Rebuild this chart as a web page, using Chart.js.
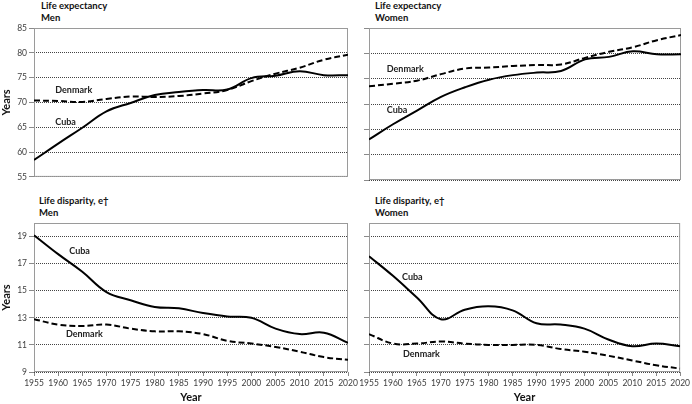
<!DOCTYPE html>
<html>
<head>
<meta charset="utf-8">
<script src="https://cdn.jsdelivr.net/npm/chart.js@4.4.0/dist/chart.umd.min.js"></script>
<style>
  body { margin: 0; background: #fff; }
  #wrap { position: relative; width: 692px; height: 404px; overflow: hidden; font-family: Lato, sans-serif; }
  canvas { position: absolute; }
  .ttl { position: absolute; font-weight: bold; font-size: 9.5px; line-height: 11.5px; color: #111; white-space: nowrap; }
</style>
</head>
<body>
<div id="wrap">
  <div class="ttl" style="left:41px;top:0px">Life expectancy<br>Men</div>
  <div class="ttl" style="left:375px;top:0px">Life expectancy<br>Women</div>
  <div class="ttl" style="left:39px;top:195px">Life disparity, e†<br>Men</div>
  <div class="ttl" style="left:375px;top:195px">Life disparity, e†<br>Women</div>
  <canvas id="leMen" width="360" height="184" style="left:0;top:0"></canvas>
  <canvas id="leWomen" width="346" height="184" style="left:346px;top:0"></canvas>
  <canvas id="ldMen" width="360" height="209" style="left:0;top:195px"></canvas>
  <canvas id="ldWomen" width="346" height="209" style="left:346px;top:195px"></canvas>
</div>
<script>
// values, one per 5 years
var years = [1955, 1960, 1965, 1970, 1975, 1980, 1985, 1990, 1995, 2000, 2005, 2010, 2015, 2020];

var cubaMenLE      = [58.4, 61.7, 64.9, 68.2, 69.9, 71.5, 72.1, 72.5, 72.6, 74.9, 75.4, 76.3, 75.5, 75.5];
var denmarkMenLE   = [70.4, 70.3, 70.1, 70.7, 71.2, 71.1, 71.3, 71.8, 72.5, 74.3, 75.8, 77.0, 78.6, 79.6];
var cubaWomenLE    = [63.0, 66.0, 68.7, 71.4, 73.3, 74.8, 75.7, 76.2, 76.5, 78.8, 79.3, 80.4, 79.8, 79.8];
var denmarkWomenLE = [73.5, 74.0, 74.6, 75.9, 77.0, 77.2, 77.5, 77.7, 77.8, 79.1, 80.3, 81.2, 82.6, 83.6];

var cubaMenLD      = [19.1, 17.7, 16.4, 14.9, 14.3, 13.8, 13.7, 13.35, 13.1, 13.0, 12.2, 11.8, 11.9, 11.15];
var denmarkMenLD   = [12.9, 12.5, 12.4, 12.5, 12.2, 12.0, 12.0, 11.8, 11.3, 11.1, 10.85, 10.5, 10.1, 9.9];
var cubaWomenLD    = [17.55, 16.1, 14.5, 12.9, 13.6, 13.85, 13.55, 12.6, 12.5, 12.2, 11.4, 10.9, 11.1, 10.9];
var denmarkWomenLD = [11.8, 11.1, 11.1, 11.25, 11.1, 11.0, 11.0, 11.0, 10.7, 10.5, 10.2, 9.85, 9.5, 9.25];

var leTicks = [55, 60, 65, 70, 75, 80, 85];
var ldTicks = [9, 11, 13, 15, 17, 19];
var leRange = [55, 85];
var ldRange = [9, 20];

var tickFont = { family: 'Lato', size: 8.5 };

function pairs(vals) {
	return years.map(function (yr, i) { return { x: yr, y: vals[i] }; });
}

// grey box round the plot area
var framePlugin = {
	id: 'frame',
	beforeDatasetsDraw: function (chart) {
		var a = chart.chartArea, ctx = chart.ctx;
		ctx.save();
		ctx.strokeStyle = '#9a9a9a';
		ctx.lineWidth = 1;
		ctx.strokeRect(a.left + 0.5, a.top + 0.5, a.right - a.left - 1, a.bottom - a.top - 1);
		ctx.restore();
	}
};

function labelPlugin(marks) {
	return {
		id: 'seriesLabels',
		afterDatasetsDraw: function (chart) {
			var ctx = chart.ctx, x = chart.scales.x, y = chart.scales.y;
			ctx.save();
			ctx.font = 'bold 9px Lato';
			ctx.fillStyle = '#222';
			ctx.textAlign = 'left';
			ctx.textBaseline = 'middle';
			marks.forEach(function (m) {
				ctx.fillText(m[0], x.getPixelForValue(m[1]), y.getPixelForValue(m[2]));
			});
			ctx.restore();
		}
	};
}

function panel(id, o) {
	return new Chart(document.getElementById(id), {
		type: 'line',
		data: {
			datasets: [{
				label: 'Cuba',
				data: pairs(o.cuba),
				borderColor: '#000',
				borderWidth: 2,
				pointRadius: 0,
				tension: 0.4,
				fill: false
			}, {
				label: 'Denmark',
				data: pairs(o.denmark),
				borderColor: '#000',
				borderWidth: 2,
				borderDash: [6, 3],
				pointRadius: 0,
				tension: 0.4,
				fill: false
			}]
		},
		options: {
			responsive: false,
			animation: false,
			layout: { padding: o.padding },
			plugins: {
				legend: { display: false },
				tooltip: { enabled: false }
			},
			scales: {
				x: {
					type: 'linear',
					min: years[0],
					max: years[years.length - 1],
					display: o.showX,
					afterFit: function (s) { s.height = o.showX ? 32 : 0; },
					ticks: {
						stepSize: 5,
						autoSkip: false,
						maxRotation: 0,
						padding: 2,
						color: '#404040',
						font: tickFont,
						callback: function (v) { return String(v); }
					},
					grid: { drawOnChartArea: false, drawTicks: true, tickLength: 4, tickColor: '#8a8a8a' },
					border: { display: false },
					title: { display: true, text: 'Year', color: '#111', font: { family: 'Lato', size: 11, weight: 'bold' }, padding: 0 }
				},
				y: {
					min: o.range[0],
					max: o.range[1],
					afterFit: function (s) { s.width = o.yWidth; },
					afterBuildTicks: function (s) {
						s.ticks = o.ticks.map(function (v) { return { value: v }; });
					},
					ticks: { display: o.showY, padding: 2, color: '#404040', font: tickFont },
					grid: { color: '#444', lineWidth: 1, borderDash: [1, 1], drawTicks: true, tickLength: 5, tickColor: '#8a8a8a' },
					border: { display: false, dash: [1, 1] },
					title: { display: o.showY, text: 'Years', color: '#111', font: { family: 'Lato', size: 11, weight: 'bold' }, padding: 0 }
				}
			}
		},
		plugins: [framePlugin, labelPlugin(o.marks)]
	});
}

function start() {
	panel('leMen', {
		cuba: cubaMenLE, denmark: denmarkMenLE, ticks: leTicks, range: leRange,
		showX: false, showY: true, yWidth: 34,
		padding: { left: 0, top: 28, right: 12, bottom: 4 },
		marks: [['Denmark', 1959.4, 72.4], ['Cuba', 1959.4, 66.0]]
	});
	panel('leWomen', {
		cuba: cubaWomenLE, denmark: denmarkWomenLE, ticks: leTicks, range: leRange,
		showX: false, showY: false, yWidth: 23,
		padding: { left: 0, top: 28, right: 11, bottom: 4 },
		marks: [['Denmark', 1958.7, 76.95], ['Cuba', 1958.7, 68.7]]
	});
	panel('ldMen', {
		cuba: cubaMenLD, denmark: denmarkMenLD, ticks: ldTicks, range: ldRange,
		showX: true, showY: true, yWidth: 34,
		padding: { left: 0, top: 28, right: 12, bottom: 0 },
		marks: [['Cuba', 1962.3, 17.9], ['Denmark', 1961.6, 11.8]]
	});
	panel('ldWomen', {
		cuba: cubaWomenLD, denmark: denmarkWomenLD, ticks: ldTicks, range: ldRange,
		showX: true, showY: false, yWidth: 23,
		padding: { left: 0, top: 28, right: 11, bottom: 0 },
		marks: [['Cuba', 1961.9, 16.0], ['Denmark', 1962.1, 10.3]]
	});
}

window.onload = start;
</script>
</body>
</html>
